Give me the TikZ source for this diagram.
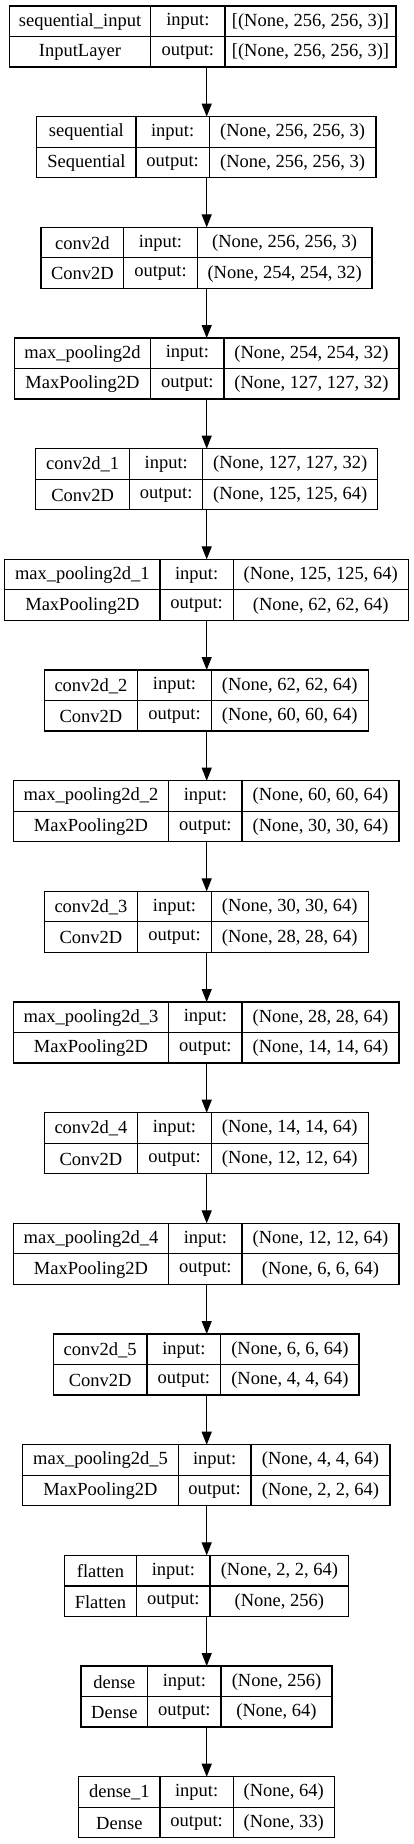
\documentclass[tikz,border=0pt]{standalone}
\usepackage{fontspec}
\setmainfont{Liberation Serif}
\usetikzlibrary{arrows.meta,fit}
\tikzset{
  boxst/.style={draw=black, line width=1.2pt, inner sep=0pt, outer sep=0pt},
  sep/.style={draw=black, line width=1.2pt},
  txt/.style={inner sep=0pt, font=\fontsize{18.5}{22}\selectfont, anchor=center},
  arr/.style={draw=black, line width=1.2pt, -{Triangle[length=13pt,width=10pt]}}
}
\newcommand\lay[9]{%
  \pgfmathsetmacro\tp{6+110.67*#1}%
  \pgfmathsetmacro\bt{\tp+61}%
  \pgfmathsetmacro\mi{\tp+30.5}%
  \pgfmathsetmacro\ra{\tp+15.8}%
  \pgfmathsetmacro\rb{\tp+46.3}%
  \node[boxst, fit={(#2,\tp) (#5,\bt)}] (b#1) {};
  \draw[sep] (#2,\mi) -- (#5,\mi);
  \draw[sep] (#3,\tp) -- (#3,\bt);
  \draw[sep] (#4,\tp) -- (#4,\bt);
  \node[txt] (na#1) at ({(#2+#3)/2},\ra) {#6};
  \node[txt] (nb#1) at ({(#2+#3)/2},\rb) {#7};
  \node[txt] (ia#1) at ({(#3+#4)/2},\ra) {input:};
  \node[txt] (ib#1) at ({(#3+#4)/2},\rb) {output:};
  \node[txt] (sa#1) at ({(#4+#5)/2},\ra) {#8};
  \node[txt] (sb#1) at ({(#4+#5)/2},\rb) {#9};
}
\begin{document}
\begin{tikzpicture}[x=1pt,y=-1pt]
\useasboundingbox[fill=white] (0,0) rectangle (413,1844);
\coordinate (ax) at (206.7,0);
\lay{0}{9.3}{150.7}{225}{396}{sequential\_input}{InputLayer}{[(None, 256, 256, 3)]}{[(None, 256, 256, 3)]}
\lay{1}{36.7}{136}{209.3}{376}{sequential}{Sequential}{(None, 256, 256, 3)}{(None, 256, 256, 3)}
\lay{2}{41}{123.7}{197.3}{372}{conv2d}{Conv2D}{(None, 256, 256, 3)}{(None, 254, 254, 32)}
\lay{3}{14.3}{150.7}{224}{399}{max\_pooling2d}{MaxPooling2D}{(None, 254, 254, 32)}{(None, 127, 127, 32)}
\lay{4}{35.7}{129.7}{202.7}{377.7}{conv2d\_1}{Conv2D}{(None, 127, 127, 32)}{(None, 125, 125, 64)}
\lay{5}{4.7}{160}{233.3}{408.3}{max\_pooling2d\_1}{MaxPooling2D}{(None, 125, 125, 64)}{(None, 62, 62, 64)}
\lay{6}{44.3}{137.7}{211.3}{368.3}{conv2d\_2}{Conv2D}{(None, 62, 62, 64)}{(None, 60, 60, 64)}
\lay{7}{13.3}{168.7}{242}{399}{max\_pooling2d\_2}{MaxPooling2D}{(None, 60, 60, 64)}{(None, 30, 30, 64)}
\lay{8}{44.3}{137.7}{211.3}{368.3}{conv2d\_3}{Conv2D}{(None, 30, 30, 64)}{(None, 28, 28, 64)}
\lay{9}{13.3}{168.7}{242}{399}{max\_pooling2d\_3}{MaxPooling2D}{(None, 28, 28, 64)}{(None, 14, 14, 64)}
\lay{10}{44.3}{137.7}{211.3}{368.3}{conv2d\_4}{Conv2D}{(None, 14, 14, 64)}{(None, 12, 12, 64)}
\lay{11}{13.3}{168.7}{242}{399}{max\_pooling2d\_4}{MaxPooling2D}{(None, 12, 12, 64)}{(None, 6, 6, 64)}
\lay{12}{53.3}{147}{220.7}{359}{conv2d\_5}{Conv2D}{(None, 6, 6, 64)}{(None, 4, 4, 64)}
\lay{13}{22.7}{178.3}{251}{390}{max\_pooling2d\_5}{MaxPooling2D}{(None, 4, 4, 64)}{(None, 2, 2, 64)}
\lay{14}{64.3}{136.7}{210}{348.7}{flatten}{Flatten}{(None, 2, 2, 64)}{(None, 256)}
\lay{15}{81}{147.7}{221}{332}{dense}{Dense}{(None, 256)}{(None, 64)}
\lay{16}{78.7}{160}{233.3}{334.3}{dense\_1}{Dense}{(None, 64)}{(None, 33)}
\foreach \i [evaluate=\i as \j using int(\i+1)] in {0,...,15} {
  \draw[arr] (b\i.south -| ax) -- (b\j.north -| ax);
}
\end{tikzpicture}
\end{document}
